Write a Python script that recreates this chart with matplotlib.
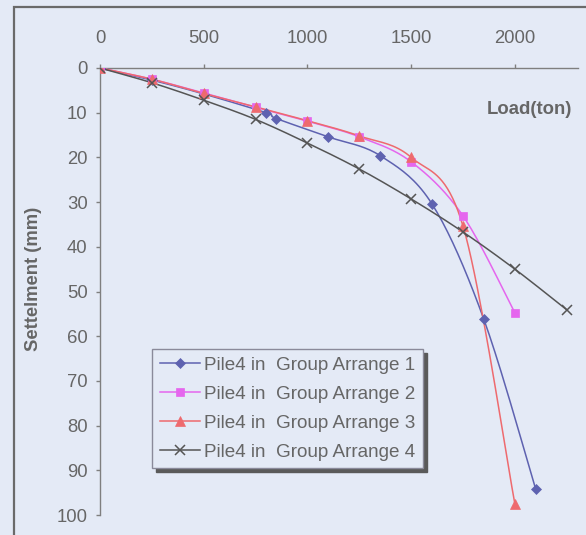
import numpy as np
import matplotlib
matplotlib.use("Agg")
import matplotlib.pyplot as plt
from matplotlib.patches import Rectangle

plt.rcParams['font.family'] = ['Liberation Sans', 'DejaVu Sans']

# ---- data ----
load1 = [0, 250, 500, 800, 850, 1100, 1350, 1600, 1850, 2100]
sett1 = [0, 2.7, 5.8, 10.0, 11.3, 15.4, 19.6, 30.4, 56.2, 94.2]

load2 = [0, 250, 500, 750, 1000, 1250, 1500, 1750, 2000]
sett2 = [0, 2.5, 5.6, 8.8, 11.9, 15.4, 21.0, 33.1, 54.8]

load3 = [0, 250, 500, 750, 1000, 1250, 1500, 1750, 2000]
sett3 = [0, 2.5, 5.7, 8.7, 11.8, 15.2, 20.0, 35.4, 97.6]

load4 = [0, 250, 500, 750, 1000, 1250, 1500, 1750, 2000, 2250]
sett4 = [0, 3.3, 7.2, 11.5, 16.8, 22.6, 29.3, 36.7, 45.0, 54.1]

labels = ["Pile4 in  Group Arrange 1", "Pile4 in  Group Arrange 2",
          "Pile4 in  Group Arrange 3", "Pile4 in  Group Arrange 4"]
x_ticks = [0, 500, 1000, 1500, 2000]
y_ticks = [0, 10, 20, 30, 40, 50, 60, 70, 80, 90, 100]


def smooth(xs, ys, n=20):
    """Catmull-Rom style smoothing (like Excel's smoothed line)."""
    P = np.column_stack([xs, ys]).astype(float)
    P = np.vstack([P[0], P, P[-1]])
    out = []
    t = np.linspace(0, 1, n, endpoint=False)
    for i in range(1, len(P) - 2):
        p0, p1, p2, p3 = P[i - 1], P[i], P[i + 1], P[i + 2]
        c1 = p1 + (p2 - p0) / 6.0
        c2 = p2 - (p3 - p1) / 6.0
        tt = t[:, None]
        seg = ((1 - tt) ** 3) * p1 + 3 * ((1 - tt) ** 2) * tt * c1 + 3 * (1 - tt) * tt ** 2 * c2 + tt ** 3 * p2
        out.append(seg)
    out.append(P[-2][None, :])
    out = np.vstack(out)
    return out[:, 0], out[:, 1]


W, H = 586, 535
fig = plt.figure(figsize=(W / 100, H / 100), dpi=100)
bg = '#e4eaf6'
fig.patch.set_facecolor(bg)

# outer frame
fig.add_artist(Rectangle((13.5 / W, -0.1), 1.0, 1 - 7.5 / H + 0.1, transform=fig.transFigure,
                         fill=False, edgecolor='#6a6a6a', linewidth=1.6))

ax = fig.add_axes([100 / W, 1 - 515 / H, 478 / W, (515 - 68) / H])
ax.set_facecolor('none')

series = [
    (load1, sett1, '#5e62b0', 'D', 5.5),
    (load2, sett2, '#e566ee', 's', 6),
    (load3, sett3, '#ee6a6e', '^', 7.5),
    (load4, sett4, '#555555', 'x', 6.5),
]
handles = []
for (xs, ys, c, m, ms), lab in zip(series, labels):
    sx, sy = smooth(xs, ys)
    ax.plot(sx, sy, color=c, lw=1.1, zorder=3)
    ax.plot(xs, ys, linestyle='none', marker=m, color=c, ms=ms,
            mew=1.1 if m == 'x' else 0.5, zorder=4)
    h, = ax.plot([], [], color=c, lw=1.1, marker=m, ms=ms, mew=1.1 if m == 'x' else 0.5)
    handles.append(h)

ax.set_xlim(0, 2304)
ax.set_ylim(100, 0)
ax.xaxis.tick_top()
ax.set_xticks(x_ticks)
ax.set_yticks(y_ticks)
for s in ['right', 'bottom']:
    ax.spines[s].set_visible(False)
for s in ['top', 'left']:
    ax.spines[s].set_color('#7f7f7f')
    ax.spines[s].set_linewidth(1.0)
ax.tick_params(axis='x', direction='out', length=3, width=1, color='#7f7f7f',
               labelsize=13.3, labelcolor='#666666', pad=12)
ax.tick_params(axis='y', direction='out', length=3, width=1, color='#7f7f7f',
               labelsize=13.3, labelcolor='#666666', pad=6)

fig.text(33 / W, 1 - 279 / H, 'Settelment (mm)', rotation=90, ha='center', va='center',
         fontsize=13.3, fontweight='bold', color='#666666')
fig.text(529 / W, 1 - 110 / H, 'Load(ton)', ha='center', va='center',
         fontsize=13.3, fontweight='bold', color='#666666')

leg = ax.legend(handles, labels, loc='upper left', bbox_to_anchor=(152 / W, 1 - 349 / H),
                bbox_transform=fig.transFigure, fontsize=13.6, frameon=True, fancybox=False,
                shadow={'color': '#5a5a5a', 'alpha': 1.0, 'ox': 3, 'oy': -3},
                handlelength=2.15, handletextpad=0.2,
                labelspacing=0.62, borderpad=0.4, borderaxespad=0, labelcolor='#666666')
leg.get_frame().set_facecolor(bg)
leg.get_frame().set_edgecolor('#8a8a9a')
leg.get_frame().set_linewidth(1.0)

fig.savefig('out.png', dpi=100, facecolor=fig.get_facecolor())
